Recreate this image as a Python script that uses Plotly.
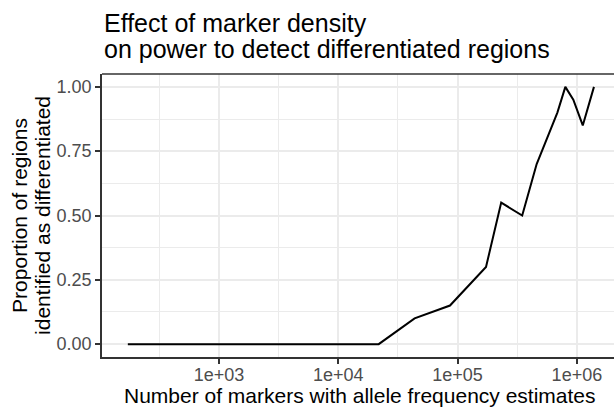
import plotly.graph_objects as go

# Data
n_markers = [172, 21800, 43600, 86300, 173000, 232000, 348000, 460000,
             686000, 800000, 933000, 1120000, 1390000]
prop_detected = [0.00, 0.00, 0.10, 0.15, 0.30, 0.55, 0.50, 0.70,
                 0.90, 1.00, 0.95, 0.85, 1.00]

x_tick_vals = [1e3, 1e4, 1e5, 1e6]
x_tick_text = ["1e+03", "1e+04", "1e+05", "1e+06"]
x_minor_vals = [10 ** 2.5, 10 ** 3.5, 10 ** 4.5, 10 ** 5.5]
y_tick_vals = [0, 0.25, 0.5, 0.75, 1.0]
y_tick_text = ["0.00", "0.25", "0.50", "0.75", "1.00"]
y_minor_vals = [0.125, 0.375, 0.625, 0.875]

title_lines = ["Effect of marker density",
               "on power to detect differentiated regions"]
x_title = "Number of markers with allele frequency estimates"
y_title_lines = ["Proportion of regions", "identified as differentiated"]

FONT = "Liberation Sans, Arial, Helvetica, sans-serif"
W, H = 614, 409
L, R, T, B = 102, 0, 74, 52
PW = W - L - R
PH = H - T - B


def px2paper_x(px):
    return (px - L) / PW


def px2paper_y(py):
    return (H - B - py) / PH


fig = go.Figure()
fig.add_trace(go.Scatter(
    x=n_markers, y=prop_detected, mode="lines",
    line=dict(color="#000000", width=2),
    hoverinfo="skip", showlegend=False,
))

grid = "#EBEBEB"
fig.update_layout(
    width=W, height=H,
    margin=dict(l=L, r=R, t=T, b=B, pad=0),
    paper_bgcolor="white", plot_bgcolor="white",
    font=dict(family=FONT, color="#000000"),
    xaxis=dict(
        type="log", range=[2.019, 6.311],
        tickmode="array", tickvals=x_tick_vals, ticktext=x_tick_text,
        showgrid=True, gridcolor=grid, gridwidth=2,
        minor=dict(tickmode="array", tickvals=x_minor_vals, showgrid=True,
                   gridcolor=grid, gridwidth=1, ticks=""),
        ticks="outside", ticklen=5, tickwidth=1.5, tickcolor="#333333",
        tickfont=dict(size=18, color="#4D4D4D", family=FONT),
        ticklabelstandoff=-4,
        showline=True, linecolor="#333333", linewidth=1.5,
        zeroline=False,
    ),
    yaxis=dict(
        range=[-0.05, 1.05],
        tickmode="array", tickvals=y_tick_vals, ticktext=y_tick_text,
        showgrid=True, gridcolor=grid, gridwidth=2,
        minor=dict(tickmode="array", tickvals=y_minor_vals, showgrid=True,
                   gridcolor=grid, gridwidth=1, ticks=""),
        ticks="outside", ticklen=5, tickwidth=1.5, tickcolor="#333333",
        tickfont=dict(size=18, color="#4D4D4D", family=FONT),
        showline=True, linecolor="#333333", linewidth=1.5,
        zeroline=False,
    ),
    shapes=[dict(type="line", xref="paper", yref="paper",
                 x0=0, x1=1.05, y0=1, y1=1,
                 line=dict(color="#333333", width=1.5))],
)

ann = []
ann.append(dict(text=title_lines[0], x=px2paper_x(102), y=px2paper_y(22.5),
                xref="paper", yref="paper", xanchor="left", yanchor="middle",
                showarrow=False, font=dict(size=25, color="#000000", family=FONT)))
ann.append(dict(text=title_lines[1], x=px2paper_x(102), y=px2paper_y(48.5),
                xref="paper", yref="paper", xanchor="left", yanchor="middle",
                showarrow=False, font=dict(size=25, color="#000000", family=FONT)))
ann.append(dict(text=x_title, x=px2paper_x(360.4), y=px2paper_y(395.4),
                xref="paper", yref="paper", xanchor="center", yanchor="middle",
                showarrow=False, font=dict(size=21, color="#000000", family=FONT)))
ann.append(dict(text=y_title_lines[0], x=px2paper_x(19.4), y=0.5,
                xref="paper", yref="paper", xanchor="center", yanchor="middle",
                textangle=-90, showarrow=False,
                font=dict(size=21, color="#000000", family=FONT)))
ann.append(dict(text=y_title_lines[1], x=px2paper_x(42.4), y=0.5,
                xref="paper", yref="paper", xanchor="center", yanchor="middle",
                textangle=-90, showarrow=False,
                font=dict(size=21, color="#000000", family=FONT)))
fig.update_layout(annotations=ann)

fig.write_html("out.html")
